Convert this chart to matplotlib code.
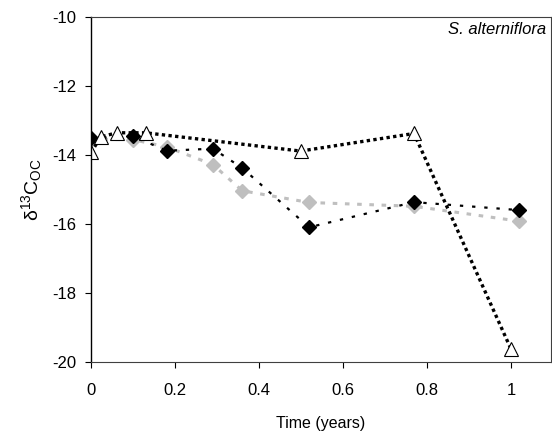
import matplotlib.pyplot as plt

plt.rcParams['font.family'] = ['Liberation Sans', 'DejaVu Sans']
plt.rcParams['axes.unicode_minus'] = False
plt.rcParams['mathtext.default'] = 'regular'

# open triangles
t_tri = [0, 0.023, 0.061, 0.13, 0.499, 0.769, 1.0]
d_tri = [-13.93, -13.48, -13.36, -13.36, -13.89, -13.38, -19.63]
# black diamonds
t_blk = [0, 0.1, 0.18, 0.29, 0.36, 0.519, 0.769, 1.018]
d_blk = [-13.52, -13.46, -13.88, -13.82, -14.38, -16.1, -15.37, -15.6]
# grey diamonds
t_gry = [0, 0.1, 0.18, 0.29, 0.36, 0.519, 0.769, 1.018]
d_gry = [-13.55, -13.56, -13.77, -14.28, -15.04, -15.38, -15.49, -15.92]

fig = plt.figure(figsize=(5.52, 4.44), dpi=100)
ax = fig.add_axes([0.165, 0.185, 0.833, 0.777])

ax.plot(t_gry, d_gry, color='#bfbfbf', linestyle=(0, (1.5, 2.5)), lw=2.2,
        marker='D', markersize=7.5, markerfacecolor='#bfbfbf', markeredgecolor='#bfbfbf')
ax.plot(t_blk, d_blk, color='black', linestyle=(0, (1.5, 4)), lw=1.6,
        marker='D', markersize=7.5, markerfacecolor='black', markeredgecolor='black')
ax.plot(t_tri, d_tri, color='black', linestyle=(0, (1, 1)), lw=2.4,
        marker='^', markersize=9.5, markerfacecolor='white', markeredgecolor='black',
        markeredgewidth=0.8)

ax.set_xlim(0, 1.095)
ax.set_ylim(-20, -10)
ax.set_xticks([0, 0.2, 0.4, 0.6, 0.8, 1])
ax.set_xticklabels(['0', '0.2', '0.4', '0.6', '0.8', '1'])
ax.set_yticks([-20, -18, -16, -14, -12, -10])
ax.tick_params(direction='out', length=4.5, width=0.8, labelsize=12, colors='black')
ax.tick_params(axis='x', pad=11)
ax.tick_params(axis='y', pad=6)

for s in ['top', 'right', 'bottom']:
    ax.spines[s].set_color('#404040')
    ax.spines[s].set_linewidth(0.8)
ax.spines['left'].set_color('black')
ax.spines['left'].set_linewidth(1.0)

ax.set_xlabel('Time (years)', fontsize=11.5, labelpad=13)
ax.set_ylabel(r'$\delta^{13}$C$_{OC}$', fontsize=14, labelpad=6)
ax.text(0.99, 0.985, 'S. alterniflora', transform=ax.transAxes, ha='right', va='top',
        fontsize=12, style='italic')

fig.savefig('out.png', dpi=100)
